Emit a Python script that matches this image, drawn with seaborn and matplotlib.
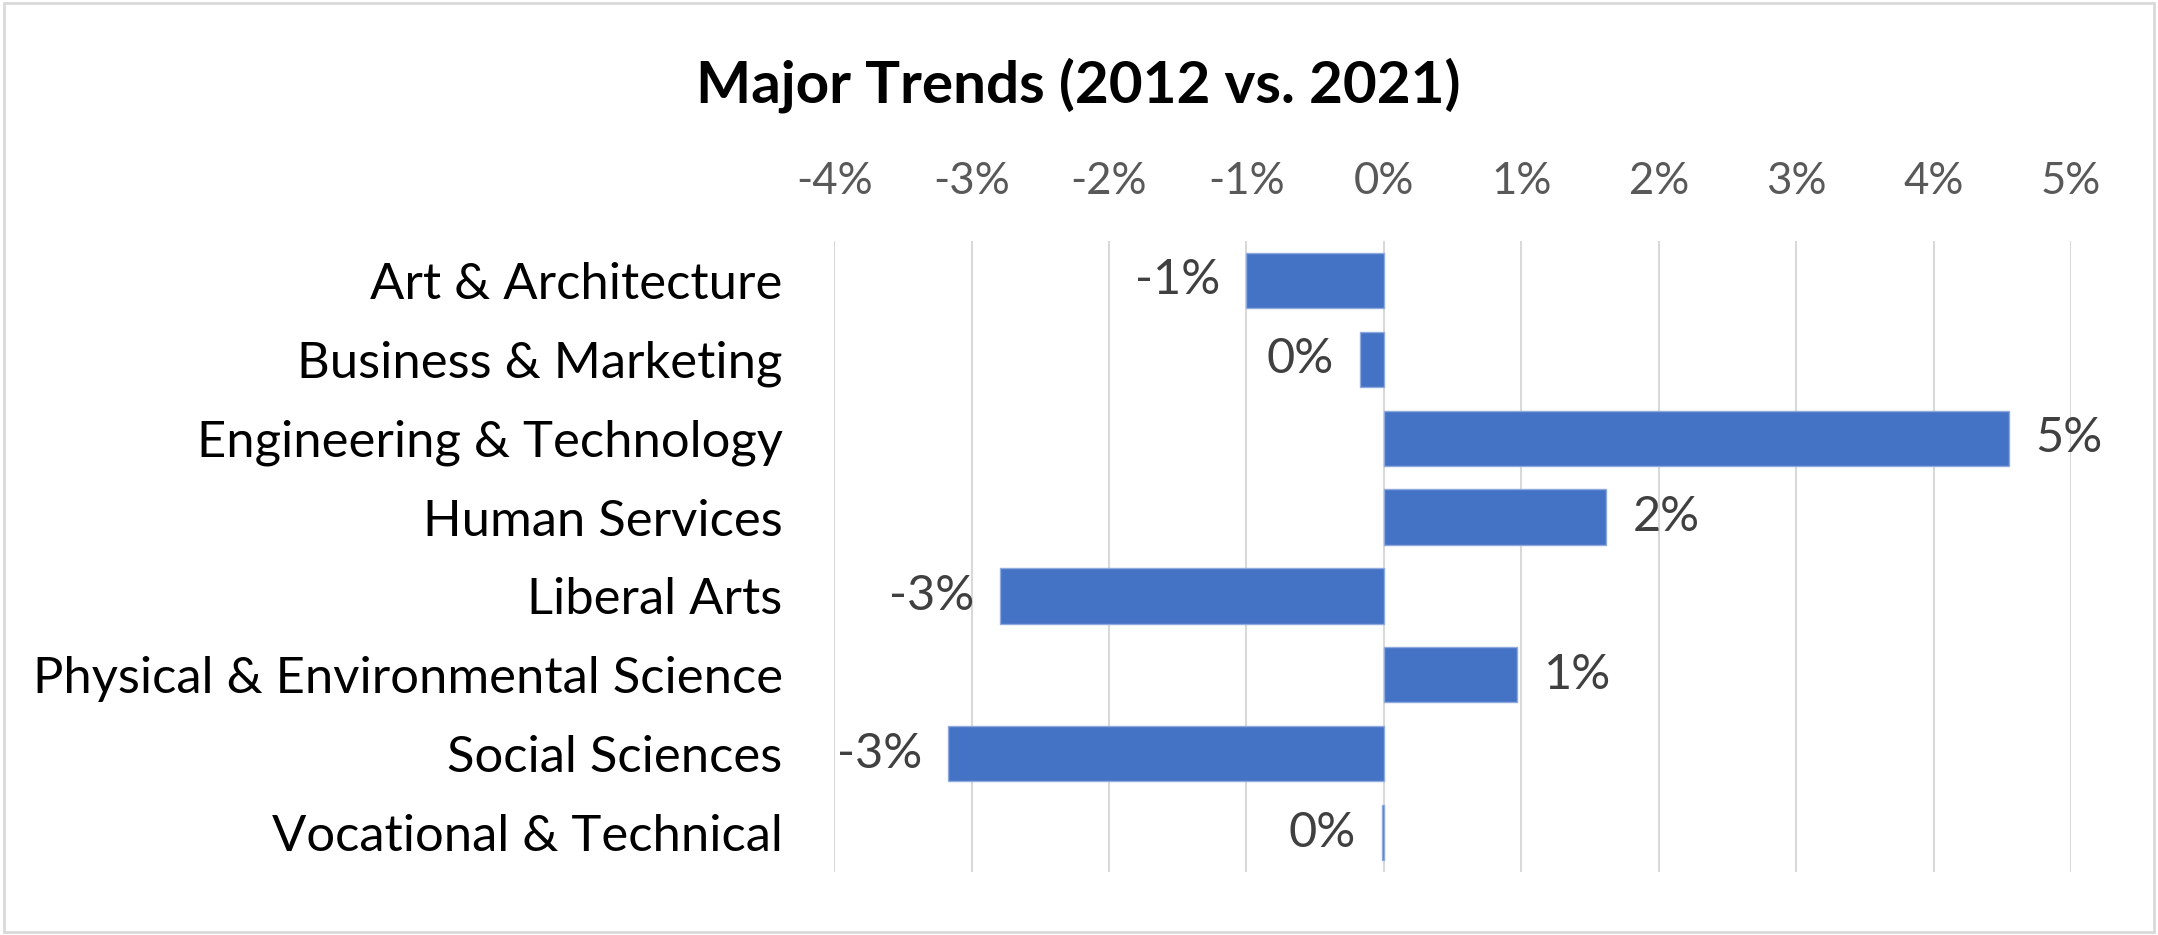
import matplotlib
matplotlib.use('Agg')
import matplotlib.pyplot as plt
import numpy as np
import pandas as pd
import seaborn as sns

# Values (percent change, 2012 vs 2021)
majors = ['Art & Architecture', 'Business & Marketing', 'Engineering & Technology',
          'Human Services', 'Liberal Arts', 'Physical & Environmental Science',
          'Social Sciences', 'Vocational & Technical']
change = [-1.00, -0.17, 4.55, 1.62, -2.79, 0.97, -3.17, -0.01]
x_ticks = [-4, -3, -2, -1, 0, 1, 2, 3, 4, 5]

data = pd.DataFrame({'Major': majors, 'Change': change})

sns.set_style('white')
plt.rcParams['font.family'] = ['Lato', 'DejaVu Sans']

fig = plt.figure(figsize=(21.58, 9.35), dpi=100)
ax = fig.add_axes([0.3865, 0.0674, 0.5732, 0.6748])

sns.barplot(data=data, x='Change', y='Major', orient='h', color='#4472C4',
            width=0.7, edgecolor='#8FAADC', linewidth=1, saturation=1, ax=ax, zorder=3)

# labels like Excel: rounded whole percents
labels = []
for v in change:
    r = int(round(v))
    if r == 0:
        r = 0
    labels.append(f'{r}%')
ax.bar_label(ax.containers[0], labels=labels, padding=19, fontsize=35, color='#404040')

ax.set_xlim(-4, 5)
ax.set_ylim(7.5, -0.5)
ax.set_xticks(x_ticks)
ax.set_xticklabels([f'{t}%' for t in x_ticks], fontsize=31.5, color='#595959')
ax.xaxis.tick_top()
ax.tick_params(axis='x', length=0, pad=28)
ax.tick_params(axis='y', length=0, pad=37, labelsize=36.5, labelcolor='#000000')
ax.set_xlabel('')
ax.set_ylabel('')
ax.grid(axis='x', color='#D9D9D9', linewidth=1.5, zorder=0)
ax.grid(axis='y', visible=False)
for s in ax.spines.values():
    s.set_visible(False)

fig.text(0.4997, 0.909, 'Major Trends (2012 vs. 2021)', ha='center', va='center',
         fontsize=42, fontweight='bold', color='#000000')

# light border round the chart
fig.patches.append(plt.Rectangle((0.002, 0.003), 0.996, 0.994, transform=fig.transFigure,
                                 fill=False, edgecolor='#D9D9D9', linewidth=2))

fig.savefig('out.png', dpi=100)
